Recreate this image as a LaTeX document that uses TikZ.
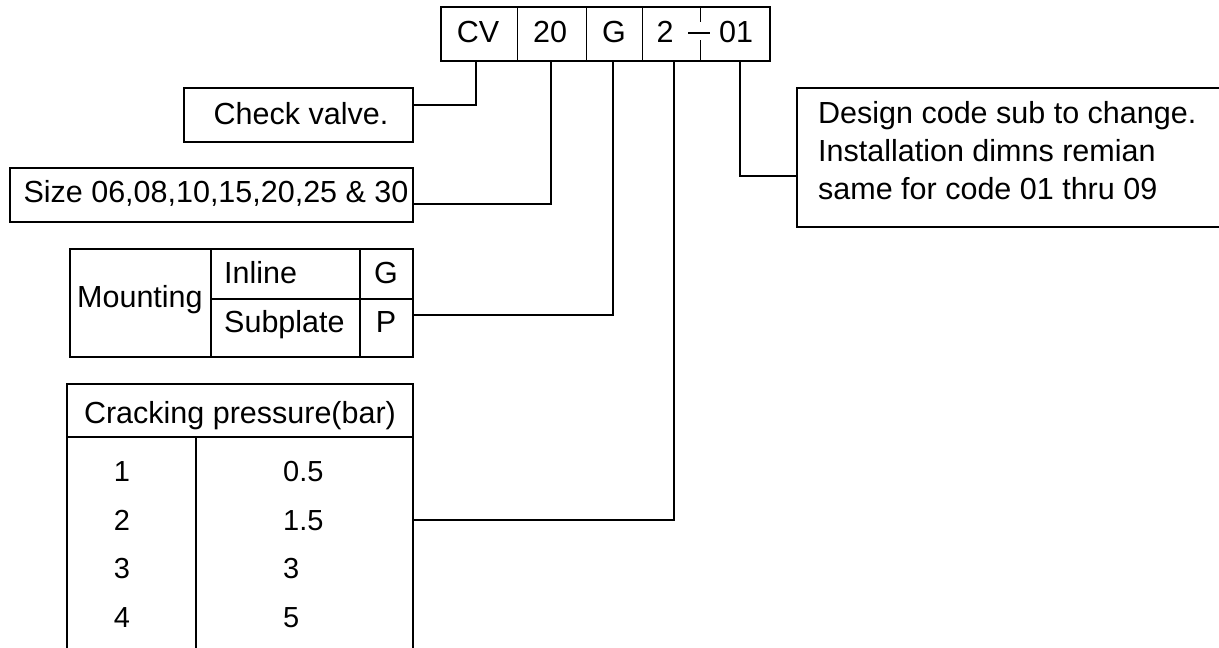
\documentclass[tikz,border=0pt]{standalone}
\usepackage{fontspec}
\setmainfont{Liberation Sans}
\newcommand\figfs{\fontsize{30.5}{36}\selectfont}
\newcommand\rowfs{\fontsize{29}{34}\selectfont}
\begin{document}
\begin{tikzpicture}[x=1pt,y=-1pt,
  box/.style={draw, rectangle, inner sep=0pt, line width=1.4pt},
  cell/.style={rectangle, inner sep=0pt},
  txt/.style={anchor=base, inner sep=0pt, font=\figfs},
  txtw/.style={anchor=base west, inner sep=0pt, font=\figfs},
  rowc/.style={anchor=base, inner sep=0pt, font=\rowfs},
  roww/.style={anchor=base west, inner sep=0pt, font=\rowfs},
  rule/.style={line width=1.4pt},
  wire/.style={line width=1.4pt}]
\useasboundingbox (0,0) rectangle (1219,648);

% ---------- code box ----------
\node[box, minimum width=329pt, minimum height=54pt] (code) at (605.5,34) {};
\node[cell, minimum width=76pt, minimum height=54pt] (cv) at (479,34) {};
\node[cell, minimum width=69pt, minimum height=54pt] (n20) at (551.5,34) {};
\node[cell, minimum width=56pt, minimum height=54pt] (g) at (614,34) {};
\node[cell, minimum width=58pt, minimum height=54pt] (two) at (671,34) {};
\node[cell, minimum width=70pt, minimum height=54pt] (o1) at (735,34) {};
\draw[rule] (cv.north east) -- (cv.south east);
\draw[rule] (n20.north east) -- (n20.south east);
\draw[rule] (g.north east) -- (g.south east);
\draw[rule] (two.north east) -- ([yshift=-15pt]two.north east);
\draw[rule] ([yshift=21pt]two.south east) -- (two.south east);
\draw[rule] (688,33) -- (710,33);
\node[txt] (tcv) at (478,42) {CV};
\node[txt] (t20) at (550,42) {20};
\node[txt] (tg) at (614,42) {G};
\node[txt] (t2) at (665,42) {2};
\node[txt] (t01) at (736,42) {01};

% ---------- check valve ----------
\node[box, minimum width=229pt, minimum height=54pt] (chk) at (298.5,115) {};
\node[txt] (tchk) at (301,124) {Check valve.};

% ---------- size ----------
\node[box, minimum width=403pt, minimum height=54pt] (size) at (211.5,195) {};
\node[txt] (tsize) at (216,202) {Size 06,08,10,15,20,25 \& 30};

% ---------- mounting ----------
\node[box, minimum width=343pt, minimum height=108pt] (mnt) at (241.5,303) {};
\draw[rule] (211,249) -- (211,357);
\draw[rule] (360,249) -- (360,357);
\draw[rule] (211,299) -- (413,299);
\node[txtw] (tmnt) at (77,307) {Mounting};
\node[txtw] (tinl) at (224,283) {Inline};
\node[txtw] (tsub) at (224,332) {Subplate};
\node[txt] (tmg) at (386,283) {G};
\node[txt] (tmp) at (386,332) {P};

% ---------- cracking pressure ----------
\node[box, minimum width=346pt, minimum height=316pt] (crk) at (240,542) {};
\draw[rule] (67,437) -- (413,437);
\draw[rule] (196,437) -- (196,700);
\node[txt] (tcrk) at (240,423) {Cracking pressure(bar)};
\node[rowc] (r1a) at (122,481) {1};
\node[roww] (r1b) at (283,481) {0.5};
\node[rowc] (r2a) at (122,530) {2};
\node[roww] (r2b) at (283,530) {1.5};
\node[rowc] (r3a) at (122,578.5) {3};
\node[roww] (r3b) at (283,578.5) {3};
\node[rowc] (r4a) at (122,627) {4};
\node[roww] (r4b) at (283,627) {5};

% ---------- design code ----------
\node[box, minimum width=443pt, minimum height=139pt] (des) at (1018.5,157.5) {};
\node[txtw] (td1) at (818,123) {Design code sub to change.};
\node[txtw] (td2) at (818,161) {Installation dimns remian};
\node[txtw] (td3) at (818,199) {same for code 01 thru 09};

% ---------- connectors ----------
\draw[wire] ([xshift=-3pt]cv.south) |- ([yshift=10pt]chk.east);
\draw[wire] ([xshift=-0.5pt]n20.south) |- ([yshift=-9pt]size.east);
\draw[wire] ([xshift=-1pt]g.south) |- ([yshift=-12pt]mnt.east);
\draw[wire] ([xshift=3pt]two.south) |- ([yshift=22pt]crk.east);
\draw[wire] ([xshift=5pt]o1.south) |- ([yshift=-18.5pt]des.west);
\end{tikzpicture}
\end{document}
